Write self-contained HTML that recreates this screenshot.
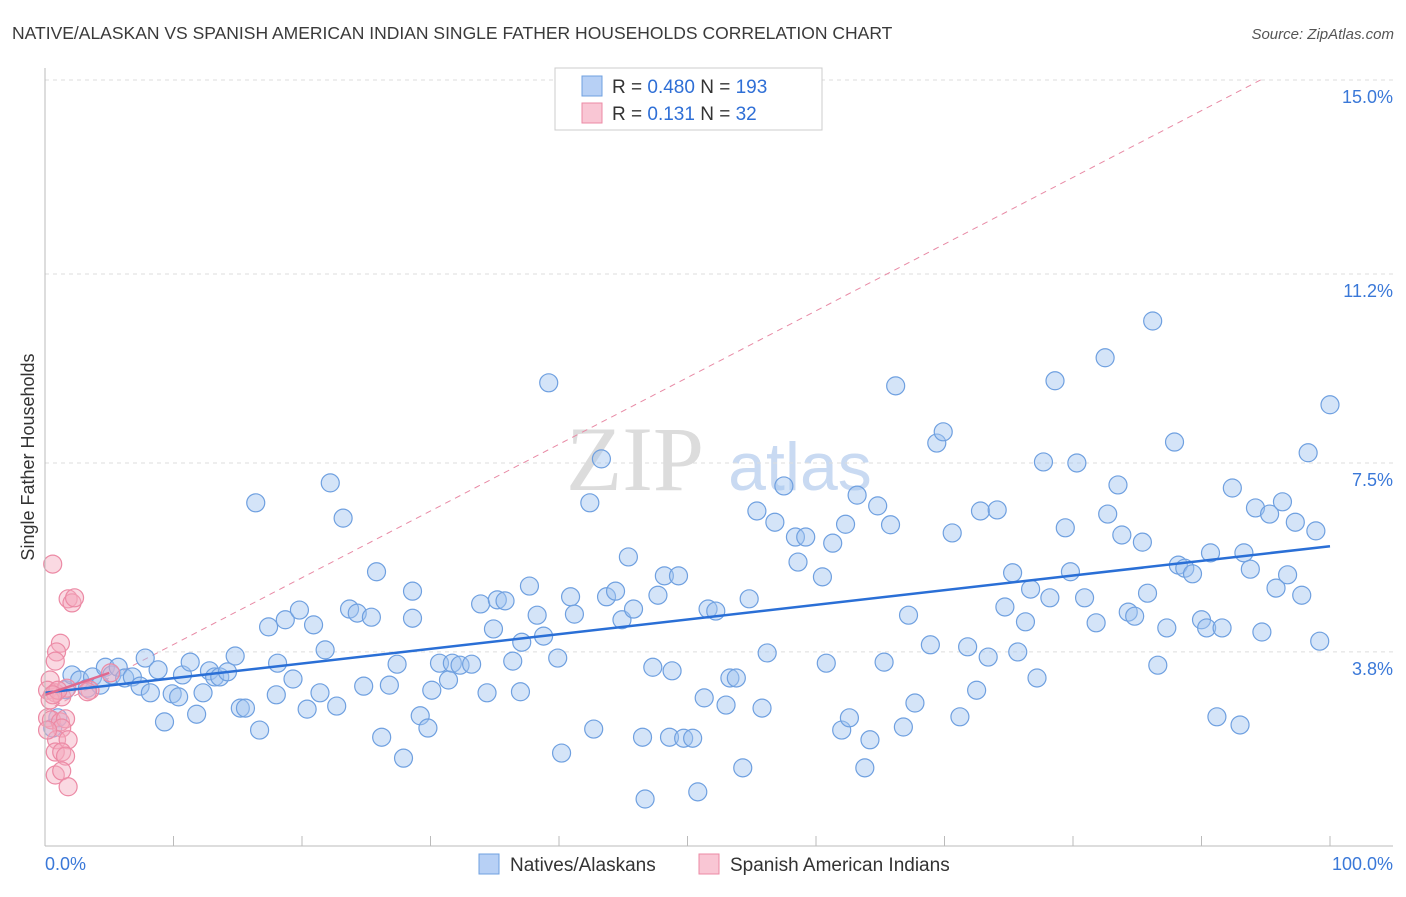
<!DOCTYPE html>
<html><head><meta charset="utf-8"><style>
body{margin:0;background:#fff;font-family:"Liberation Sans",sans-serif;}
</style></head><body>
<svg id="chart" width="1406" height="892" xmlns="http://www.w3.org/2000/svg" font-family="Liberation Sans, sans-serif">
<text x="12" y="39" font-size="17.5" fill="#3a3a3a">NATIVE/ALASKAN VS SPANISH AMERICAN INDIAN SINGLE FATHER HOUSEHOLDS CORRELATION CHART</text>
<text x="1394" y="39" font-size="15" fill="#555" font-style="italic" text-anchor="end">Source: ZipAtlas.com</text>
<text transform="translate(34,457) rotate(-90)" font-size="18" fill="#333" text-anchor="middle">Single Father Households</text>
<g>
<text x="635" y="490" font-size="92" fill="#dcdcdc" font-family="Liberation Serif, serif" text-anchor="middle">ZIP</text>
<text x="800" y="490" font-size="68" fill="#c9daf2" text-anchor="middle">atlas</text>
</g>
<g id="grid"></g><g id="ticks"></g><g id="lines"></g><g id="pts"></g>
<line x1="45" y1="846" x2="1393" y2="846" stroke="#bbb"/>
<line x1="45" y1="68" x2="45" y2="846" stroke="#bbb"/>
<g>
<rect x="555" y="68" width="267" height="62" fill="#fff" stroke="#ccc"/>
<rect x="582" y="76" width="20" height="20" fill="#b7d0f5" stroke="#6fa0e0"/>
<rect x="582" y="103" width="20" height="20" fill="#f9c6d4" stroke="#ec8aa5"/>
<text x="612" y="93" font-size="19" fill="#333">R = <tspan fill="#2f6fd6">0.480</tspan>   N = <tspan fill="#2f6fd6">193</tspan></text>
<text x="612" y="120" font-size="19" fill="#333">R =   <tspan fill="#2f6fd6">0.131</tspan>   N =   <tspan fill="#2f6fd6">32</tspan></text>
</g>
<text x="45" y="870" font-size="18" fill="#3a78d8">0.0%</text>
<text x="1393" y="870" font-size="18" fill="#3a78d8" text-anchor="end">100.0%</text>
<g>
<rect x="479" y="854" width="20" height="20" fill="#b7d0f5" stroke="#6fa0e0"/>
<text x="510" y="871" font-size="19" fill="#333">Natives/Alaskans</text>
<rect x="699" y="854" width="20" height="20" fill="#f9c6d4" stroke="#ec8aa5"/>
<text x="730" y="871" font-size="19" fill="#333">Spanish American Indians</text>
</g>
</svg>
<script>
const yTicks=[15.0,11.2,7.5,3.8];
const yTickLabels=["15.0%","11.2%","7.5%","3.8%"];
const xTicks=[0,10,20,30,40,50,60,70,80,90,100];
const blue=[[0.6,2.31],[1.0,2.51],[1.6,3.06],[2.1,3.35],[2.7,3.25],[3.3,3.09],[3.7,3.31],[4.3,3.15],[4.7,3.5],[5.2,3.35],[5.7,3.5],[6.2,3.29],[6.8,3.31],[7.4,3.13],[7.8,3.68],[8.2,3.0],[8.8,3.45],[9.3,2.43],[9.9,2.98],[10.4,2.92],[10.7,3.35],[11.3,3.6],[11.8,2.58],[12.3,3.0],[12.8,3.43],[13.2,3.31],[13.6,3.31],[14.2,3.41],[14.8,3.72],[15.2,2.7],[15.6,2.7],[16.4,6.72],[16.7,2.27],[17.4,4.29],[18.0,2.96],[18.1,3.58],[18.7,4.43],[19.3,3.27],[19.8,4.62],[20.4,2.68],[20.9,4.33],[21.4,3.0],[21.8,3.84],[22.2,7.11],[22.7,2.74],[23.2,6.42],[23.7,4.64],[24.3,4.56],[24.8,3.13],[25.4,4.48],[25.8,5.37],[26.2,2.13],[26.8,3.15],[27.4,3.56],[27.9,1.72],[28.6,4.99],[28.6,4.46],[29.2,2.55],[29.8,2.31],[30.1,3.05],[30.7,3.58],[31.4,3.25],[31.7,3.58],[32.3,3.54],[33.2,3.56],[33.9,4.74],[34.4,3.0],[34.9,4.25],[35.2,4.82],[35.8,4.8],[36.4,3.62],[37.0,3.02],[37.1,3.99],[37.7,5.09],[38.3,4.52],[38.8,4.11],[39.2,9.07],[39.9,3.68],[40.2,1.82],[40.9,4.88],[41.2,4.54],[42.4,6.72],[42.7,2.29],[43.3,7.58],[43.7,4.88],[44.4,4.99],[44.9,4.43],[45.4,5.66],[45.8,4.64],[46.5,2.13],[46.7,0.92],[47.3,3.5],[47.7,4.91],[48.2,5.29],[48.6,2.13],[48.8,3.43],[49.3,5.29],[49.7,2.11],[50.4,2.11],[50.8,1.06],[51.3,2.9],[51.6,4.64],[52.2,4.6],[53.0,2.76],[53.3,3.29],[53.8,3.29],[54.3,1.53],[54.8,4.84],[55.4,6.56],[55.8,2.7],[56.2,3.78],[56.8,6.34],[57.5,7.05],[58.4,6.05],[58.6,5.56],[59.2,6.05],[60.5,5.27],[60.8,3.58],[61.3,5.93],[62.0,2.27],[62.3,6.3],[62.6,2.51],[63.2,6.87],[63.8,1.53],[64.2,2.08],[64.8,6.66],[65.3,3.6],[65.8,6.29],[66.2,9.01],[66.8,2.33],[67.2,4.52],[67.7,2.8],[68.9,3.94],[69.4,7.89],[69.9,8.11],[70.6,6.13],[71.2,2.53],[71.8,3.9],[72.5,3.05],[72.8,6.56],[73.4,3.7],[74.1,6.58],[74.7,4.68],[75.3,5.35],[75.7,3.8],[76.3,4.39],[76.7,5.03],[77.2,3.29],[77.7,7.52],[78.2,4.86],[78.6,9.11],[79.4,6.23],[79.8,5.37],[80.3,7.5],[80.9,4.86],[81.8,4.37],[82.5,9.56],[82.7,6.5],[83.5,7.07],[83.8,6.09],[84.3,4.58],[84.8,4.5],[85.4,5.95],[85.8,4.95],[86.2,10.28],[86.6,3.54],[87.3,4.27],[87.9,7.91],[88.2,5.5],[88.7,5.44],[89.3,5.33],[90.0,4.43],[90.4,4.27],[90.7,5.74],[91.2,2.53],[91.6,4.27],[92.4,7.01],[93.0,2.37],[93.3,5.74],[93.8,5.42],[94.2,6.62],[94.7,4.19],[95.3,6.5],[95.8,5.05],[96.3,6.74],[96.7,5.31],[97.3,6.34],[97.8,4.91],[98.3,7.7],[98.9,6.17],[99.2,4.01],[100.0,8.64]];
const pink=[[0.6,5.52],[1.8,4.84],[2.1,4.76],[2.3,4.86],[1.2,3.97],[0.9,3.8],[0.8,3.62],[0.4,3.25],[0.2,3.05],[0.8,3.0],[1.3,2.92],[1.7,3.09],[0.2,2.51],[0.5,2.47],[1.2,2.43],[1.6,2.49],[1.3,2.31],[0.9,2.08],[1.8,2.08],[0.8,1.84],[1.3,1.84],[1.6,1.76],[0.8,1.39],[1.3,1.47],[1.8,1.16],[3.5,3.05],[5.1,3.39],[0.4,2.86],[1.0,3.05],[0.2,2.27],[3.3,3.02],[0.6,2.96]];
const blueFit=[[0,3.0],[100,5.87]];
const pinkFit=[[0,2.96],[5,3.39]];
const pinkTrend=[[0,2.64],[94.6,15.0]];

const NS="http://www.w3.org/2000/svg";
const X=v=>45+v*12.85;
const Y=v=>846-v*51.07;
function mk(parent,tag,attrs){const e=document.createElementNS(NS,tag);for(const k in attrs)e.setAttribute(k,attrs[k]);document.getElementById(parent).appendChild(e);return e;}
yTicks.forEach((t,i)=>{
  const l=mk('grid','line',{x1:45,x2:1393,y1:Y(t),y2:Y(t),stroke:'#ddd','stroke-dasharray':'4,4'});
  
  
  const tx=mk('grid','text',{x:1393,y:Y(t)+23,'font-size':18,fill:'#3a78d8','text-anchor':'end'});
  tx.textContent=yTickLabels[i];
  
  
});
xTicks.forEach(t=>{
  const l=mk('ticks','line',{x1:X(t),x2:X(t),y1:836,y2:846,stroke:'#bbb'});
  
  
});
let d=mk('lines','line',{x1:X(pinkTrend[0][0]),y1:Y(pinkTrend[0][1]),x2:X(pinkTrend[1][0]),y2:Y(pinkTrend[1][1]),stroke:'#e88aa5','stroke-width':1,'stroke-dasharray':'6,5'});


blue.forEach(p=>{
  const c=mk('pts','circle',{cx:X(p[0]),cy:Y(p[1]),r:9,fill:'rgba(160,196,240,0.45)',stroke:'#6fa0e0','stroke-width':1.2});
  
  
});
pink.forEach(p=>{
  const c=mk('pts','circle',{cx:X(p[0]),cy:Y(p[1]),r:9,fill:'rgba(245,170,190,0.45)',stroke:'#ec8aa5','stroke-width':1.2});
  
  
});
let b=mk('pts','line',{x1:X(blueFit[0][0]),y1:Y(blueFit[0][1]),x2:X(blueFit[1][0]),y2:Y(blueFit[1][1]),stroke:'#2a6fd6','stroke-width':2.5});


let pf=mk('pts','line',{x1:X(pinkFit[0][0]),y1:Y(pinkFit[0][1]),x2:X(pinkFit[1][0]),y2:Y(pinkFit[1][1]),stroke:'#e0698f','stroke-width':2.5});


</script>
</body></html>
